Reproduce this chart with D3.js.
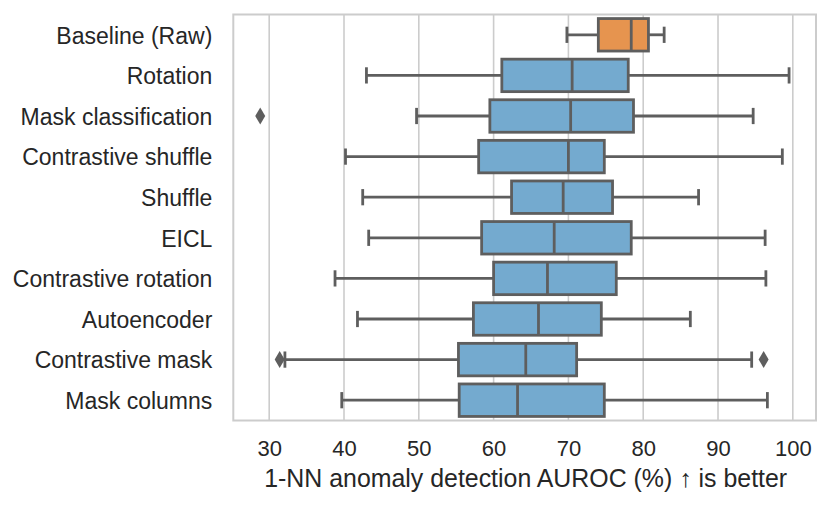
<!DOCTYPE html>
<html>
<head>
<meta charset="utf-8">
<script src="https://cdn.jsdelivr.net/npm/d3@7"></script>
<style>
  body { margin: 0; background: #fff; }
  svg { display: block; font-family: "Liberation Sans", Arial, sans-serif; }
</style>
</head>
<body>
<script>
// methods, top to bottom
const methods = ["Baseline (Raw)", "Rotation", "Mask classification", "Contrastive shuffle",
  "Shuffle", "EICL", "Contrastive rotation", "Autoencoder", "Contrastive mask", "Mask columns"];
const whiskerLow  = [69.8, 43.0, 49.7, 40.2, 42.5, 43.3, 38.8, 41.8, 32.1, 39.7];
const q1          = [74.0, 61.1, 59.5, 58.0, 62.4, 58.4, 60.0, 57.3, 55.3, 55.4];
const medians     = [78.4, 70.5, 70.3, 70.0, 69.3, 68.1, 67.2, 66.0, 64.3, 63.2];
const q3          = [80.7, 78.0, 78.7, 74.8, 75.9, 78.4, 76.4, 74.4, 71.1, 74.8];
const whiskerHigh = [82.8, 99.5, 94.7, 98.6, 87.4, 96.3, 96.4, 86.3, 94.5, 96.6];
const outliers    = [[], [], [28.8], [], [], [], [], [], [31.4, 96.1], []];
const xTicks = [30, 40, 50, 60, 70, 80, 90, 100];

const width = 831, height = 508;
const plotLeft = 233.3, plotRight = 816, plotTop = 14.5, plotBottom = 420.5;
const lineGray = "#5e5e5e";

const rows = methods.map((m, i) => ({
  name: m, lo: whiskerLow[i], q1: q1[i], med: medians[i], q3: q3[i], hi: whiskerHigh[i],
  out: outliers[i], baseline: i === 0
}));

const svg = d3.select("body").append("svg")
  .attr("width", width)
  .attr("height", height);

const x = d3.scaleLinear().domain([25.2, 103.1]).range([plotLeft, plotRight]);
const y = d3.scaleBand().domain(methods).range([plotTop, plotBottom]).padding(0);
const boxH = y.bandwidth() * 0.8;

// grid
svg.append("g").selectAll("line")
  .data(xTicks)
  .enter()
  .append("line")
  .attr("x1", d => x(d)).attr("x2", d => x(d))
  .attr("y1", plotTop).attr("y2", plotBottom)
  .attr("stroke", "#cccccc")
  .attr("stroke-width", 1.6);

// frame
svg.append("rect")
  .attr("x", plotLeft).attr("y", plotTop)
  .attr("width", plotRight - plotLeft).attr("height", plotBottom - plotTop)
  .attr("fill", "none")
  .attr("stroke", "#cccccc")
  .attr("stroke-width", 2);

const g = svg.append("g").selectAll("g")
  .data(rows)
  .enter()
  .append("g")
  .attr("transform", d => `translate(0,${y(d.name) + y.bandwidth() / 2})`);

// whiskers
g.append("line")
  .attr("x1", d => x(d.lo)).attr("x2", d => x(d.q1))
  .attr("stroke", lineGray).attr("stroke-width", 2.8);
g.append("line")
  .attr("x1", d => x(d.q3)).attr("x2", d => x(d.hi))
  .attr("stroke", lineGray).attr("stroke-width", 2.8);
// caps
g.selectAll(".cap")
  .data(d => [d.lo, d.hi])
  .enter()
  .append("line")
  .attr("x1", d => x(d)).attr("x2", d => x(d))
  .attr("y1", -boxH / 4).attr("y2", boxH / 4)
  .attr("stroke", lineGray).attr("stroke-width", 2.8);

// boxes
g.append("rect")
  .attr("x", d => x(d.q1))
  .attr("y", -boxH / 2)
  .attr("width", d => x(d.q3) - x(d.q1))
  .attr("height", boxH)
  .attr("fill", d => d.baseline ? "#e6944f" : "#74aacf")
  .attr("stroke", lineGray).attr("stroke-width", 2.8);

// medians
g.append("line")
  .attr("x1", d => x(d.med)).attr("x2", d => x(d.med))
  .attr("y1", -boxH / 2).attr("y2", boxH / 2)
  .attr("stroke", lineGray).attr("stroke-width", 2.8);

// outliers (thin diamonds)
g.selectAll(".out")
  .data(d => d.out)
  .enter()
  .append("path")
  .attr("d", d => `M${x(d)},-8.5 L${x(d) + 5},0 L${x(d)},8.5 L${x(d) - 5},0 Z`)
  .attr("fill", lineGray);

// x axis
const xAxis = svg.append("g")
  .attr("transform", `translate(0,${plotBottom})`)
  .call(d3.axisBottom(x).tickValues(xTicks).tickSize(0).tickPadding(20));
xAxis.select(".domain").remove();
xAxis.selectAll("text")
  .attr("font-size", 22)
  .attr("font-family", "Liberation Sans, Arial, sans-serif")
  .attr("fill", "#262626");

// y labels
svg.append("g").selectAll("text")
  .data(methods)
  .enter()
  .append("text")
  .attr("x", plotLeft - 21)
  .attr("y", d => y(d) + y.bandwidth() / 2)
  .attr("dy", "0.38em")
  .attr("text-anchor", "end")
  .attr("font-size", 23)
  .attr("fill", "#262626")
  .text(d => d);

// axis title
svg.append("text")
  .attr("x", (plotLeft + plotRight) / 2 + 1)
  .attr("y", 487)
  .attr("text-anchor", "middle")
  .attr("font-size", 24.9)
  .attr("fill", "#262626")
  .text("1-NN anomaly detection AUROC (%) ↑ is better");
</script>
</body>
</html>
